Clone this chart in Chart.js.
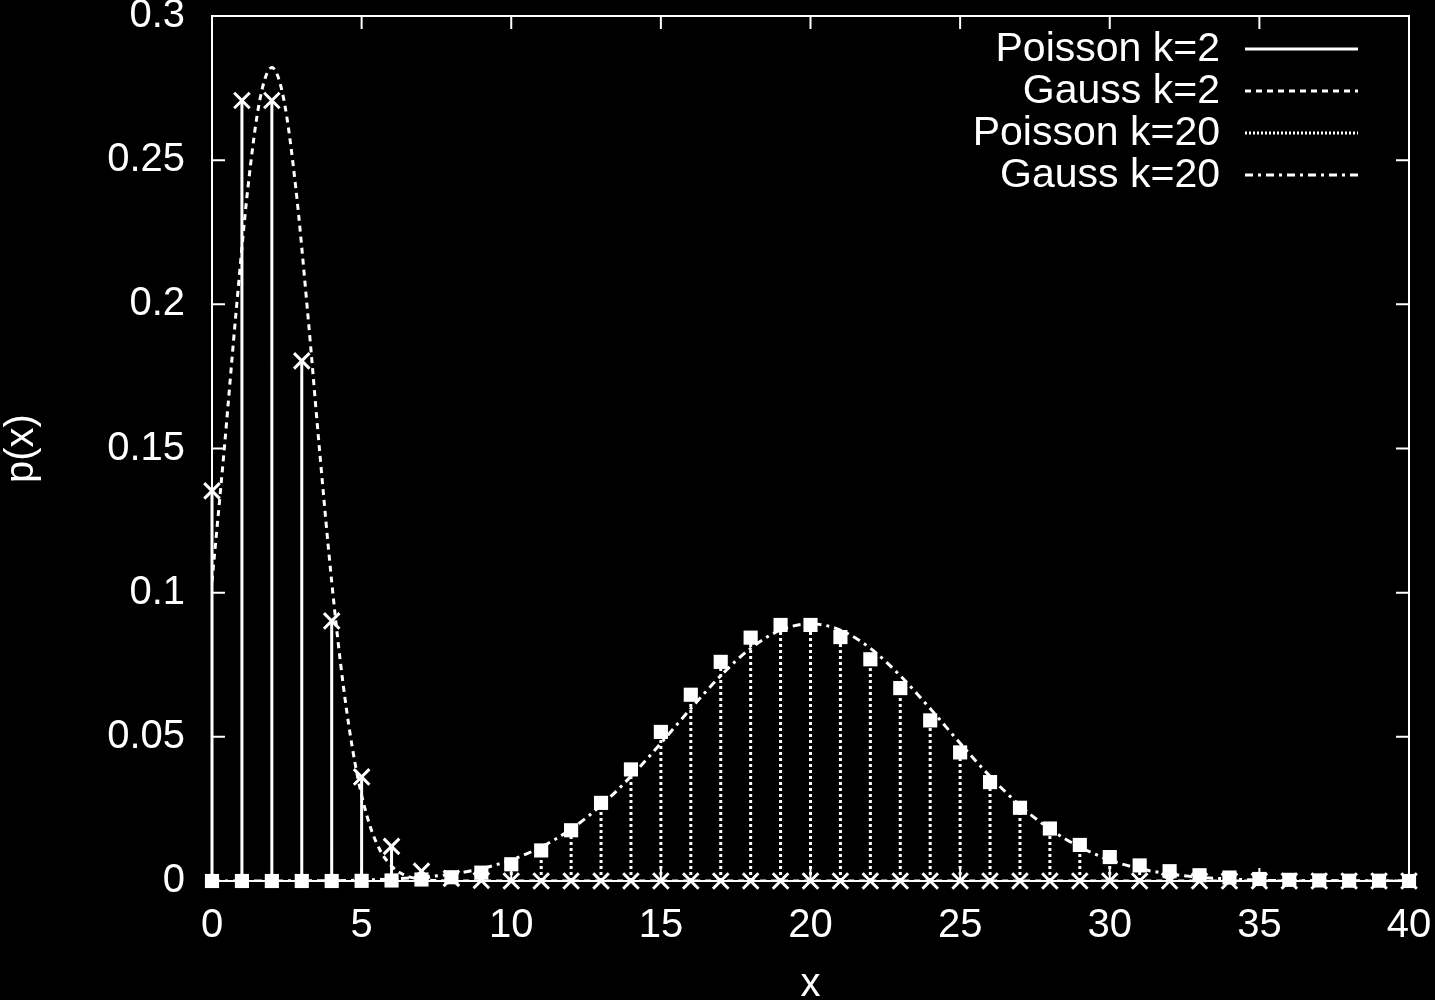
<!DOCTYPE html>
<html>
<head>
<meta charset="utf-8">
<script src="https://cdn.jsdelivr.net/npm/chart.js@4.4.0/dist/chart.umd.min.js"></script>
<style>
  html, body { margin: 0; padding: 0; background: #000; }
  #wrap { width: 1435px; height: 1000px; }
</style>
</head>
<body>
<div id="wrap"><canvas id="chart"></canvas></div>
<script>
// integer x positions of both Poisson series
const xs = [0,1,2,3,4,5,6,7,8,9,10,11,12,13,14,15,16,17,18,19,20,
            21,22,23,24,25,26,27,28,29,30,31,32,33,34,35,36,37,38,39,40];

const poisson2 = [0.1353,0.2707,0.2707,0.1804,0.0902,0.0361,0.0120,0.0034,0.0009,0.0002,0,
                  0,0,0,0,0,0,0,0,0,0,0,0,0,0,0,0,0,0,0,0,0,0,0,0,0,0,0,0,0,0];

const poisson20 = [0,0,0,0,0,0.00005,0.00018,0.00052,0.0013,0.0029,0.0058,
                   0.0106,0.0176,0.0271,0.0387,0.0517,0.0646,0.0760,0.0844,0.0888,0.0888,
                   0.0846,0.0769,0.0669,0.0557,0.0446,0.0343,0.0254,0.0182,0.0125,0.0083,
                   0.0054,0.0034,0.0020,0.0012,0.0007,0.0004,0.0002,0.0001,0.0001,0];

const gauss2X = [0,0.4,0.8,1.2,1.6,2.0,2.4,2.8,3.2,3.6,4.0,4.4,4.8,5.2,5.6,6.0,6.4,6.8,7.2,7.6,8,10,20,30,40];
const gauss2Y = [0.1038,0.1487,0.1968,0.2404,0.2710,0.2821,0.2710,0.2404,0.1968,0.1487,0.1038,
                 0.0668,0.0397,0.0218,0.0110,0.0052,0.0022,0.0009,0.0003,0.0001,0,0,0,0,0];

const gauss20X = [0,1,2,3,4,5,6,7,8,9,10,11,12,13,14,15,16,17,18,19,20,
                  21,22,23,24,25,26,27,28,29,30,31,32,33,34,35,36,37,38,39,40];
const gauss20Y = [0,0,0,0.0001,0.0001,0.0003,0.0007,0.0013,0.0024,0.0043,0.0073,
                  0.0118,0.0180,0.0262,0.0363,0.0478,0.0598,0.0712,0.0807,0.0870,0.0892,
                  0.0870,0.0807,0.0712,0.0598,0.0478,0.0363,0.0262,0.0180,0.0118,0.0073,
                  0.0043,0.0024,0.0013,0.0007,0.0003,0.0001,0.0001,0,0,0];

const xTickValues = [0,5,10,15,20,25,30,35,40];
const yTickValues = [0,0.05,0.1,0.15,0.2,0.25,0.3];

const labels = ['Poisson k=2','Gauss k=2','Poisson k=20','Gauss k=20'];

const WHITE = '#ffffff';
const TICK = 13;

function pts(xv, yv) { return xv.map((x, i) => ({ x: x, y: yv[i] })); }

// frame, inward ticks, impulses and the gnuplot style key
const gnuplotBits = {
  id: 'gnuplotBits',
  beforeDatasetsDraw(chart) {
    const { ctx, chartArea: a, scales: { x, y } } = chart;
    ctx.save();
    ctx.strokeStyle = WHITE;
    ctx.lineWidth = 2;
    ctx.setLineDash([]);
    ctx.strokeRect(a.left, a.top, a.right - a.left, a.bottom - a.top);
    ctx.beginPath();
    x.ticks.forEach(t => {
      const px = x.getPixelForValue(t.value);
      ctx.moveTo(px, a.bottom); ctx.lineTo(px, a.bottom - TICK);
      ctx.moveTo(px, a.top); ctx.lineTo(px, a.top + TICK);
    });
    y.ticks.forEach(t => {
      const py = y.getPixelForValue(t.value);
      ctx.moveTo(a.left, py); ctx.lineTo(a.left + TICK, py);
      ctx.moveTo(a.right, py); ctx.lineTo(a.right - TICK, py);
    });
    ctx.stroke();
    ctx.restore();
  },
  beforeDatasetDraw(chart, args) {
    const ds = chart.data.datasets[args.index];
    if (!ds.impulses) return;
    const ctx = chart.ctx;
    const y0 = chart.scales.y.getPixelForValue(0);
    ctx.save();
    ctx.strokeStyle = WHITE;
    ctx.lineWidth = 3;
    ctx.setLineDash(ds.dash);
    ctx.beginPath();
    args.meta.data.forEach(p => {
      if (Math.abs(p.y - y0) < 1) return;
      ctx.moveTo(p.x, y0);
      ctx.lineTo(p.x, p.y);
    });
    ctx.stroke();
    ctx.restore();
  },
  afterDraw(chart) {
    const { ctx, chartArea: a } = chart;
    const lineEnd = a.right - 51, lineStart = lineEnd - 113, textEnd = lineStart - 25;
    ctx.save();
    ctx.font = "41px 'Liberation Sans', Arial, sans-serif";
    ctx.fillStyle = WHITE;
    ctx.strokeStyle = WHITE;
    ctx.lineWidth = 3;
    ctx.textAlign = 'right';
    ctx.textBaseline = 'middle';
    chart.data.datasets.forEach((ds, i) => {
      const yy = a.top + 33 + i * 42;
      ctx.fillText(ds.label, textEnd, yy + 1);
      ctx.setLineDash(ds.keyDash);
      ctx.beginPath();
      ctx.moveTo(lineStart, yy);
      ctx.lineTo(lineEnd, yy);
      ctx.stroke();
    });
    ctx.restore();
  }
};

Chart.defaults.font.family = "'Liberation Sans', Arial, sans-serif";
Chart.defaults.font.size = 40;
Chart.defaults.color = WHITE;

new Chart(document.getElementById('chart'), {
  type: 'scatter',
  data: {
    datasets: [
      {
        label: labels[0],
        data: pts(xs, poisson2),
        showLine: false,
        impulses: true,
        dash: [],
        keyDash: [],
        pointStyle: 'crossRot',
        pointRadius: 11,
        pointBorderWidth: 3,
        borderColor: WHITE,
        backgroundColor: WHITE,
        clip: false,
        order: 4
      },
      {
        label: labels[1],
        data: pts(gauss2X, gauss2Y),
        showLine: true,
        borderDash: [6, 5],
        keyDash: [6, 5],
        borderWidth: 3,
        borderColor: WHITE,
        pointRadius: 0,
        cubicInterpolationMode: 'monotone',
        order: 3
      },
      {
        label: labels[2],
        data: pts(xs, poisson20),
        showLine: false,
        impulses: true,
        dash: [3, 3],
        keyDash: [2, 2],
        pointStyle: 'rect',
        pointRadius: 10,
        pointBorderWidth: 0,
        borderColor: WHITE,
        backgroundColor: WHITE,
        clip: false,
        order: 2
      },
      {
        label: labels[3],
        data: pts(gauss20X, gauss20Y),
        showLine: true,
        borderDash: [8, 5, 3, 5],
        keyDash: [8, 5, 3, 5],
        borderWidth: 3,
        borderColor: WHITE,
        pointRadius: 0,
        cubicInterpolationMode: 'monotone',
        order: 1
      }
    ]
  },
  options: {
    responsive: true,
    maintainAspectRatio: false,
    animation: false,
    layout: { padding: { top: 16, right: 26, bottom: 0, left: 0 } },
    plugins: { legend: { display: false }, tooltip: { enabled: false } },
    scales: {
      x: {
        type: 'linear',
        min: 0, max: 40,
        afterBuildTicks: s => { s.ticks = xTickValues.map(v => ({ value: v })); },
        afterFit: s => { s.height = 119; s.paddingLeft = 0; s.paddingRight = 0; },
        grid: { display: false, drawTicks: false },
        border: { display: false },
        ticks: { padding: 21, maxRotation: 0, callback: v => String(v) },
        title: { display: true, text: 'x', padding: 0, font: { size: 40, lineHeight: 0.75 } }
      },
      y: {
        type: 'linear',
        min: 0, max: 0.3,
        afterBuildTicks: s => { s.ticks = yTickValues.map(v => ({ value: v })); },
        afterFit: s => { s.width = 212; s.paddingTop = 0; s.paddingBottom = 0; },
        grid: { display: false, drawTicks: false },
        border: { display: false },
        ticks: { padding: 27, callback: v => String(Number(v.toFixed(2))) },
        title: { display: true, text: 'p(x)', padding: 0, font: { size: 40, lineHeight: 1.1 } }
      }
    }
  },
  plugins: [gnuplotBits]
});
</script>
</body>
</html>
